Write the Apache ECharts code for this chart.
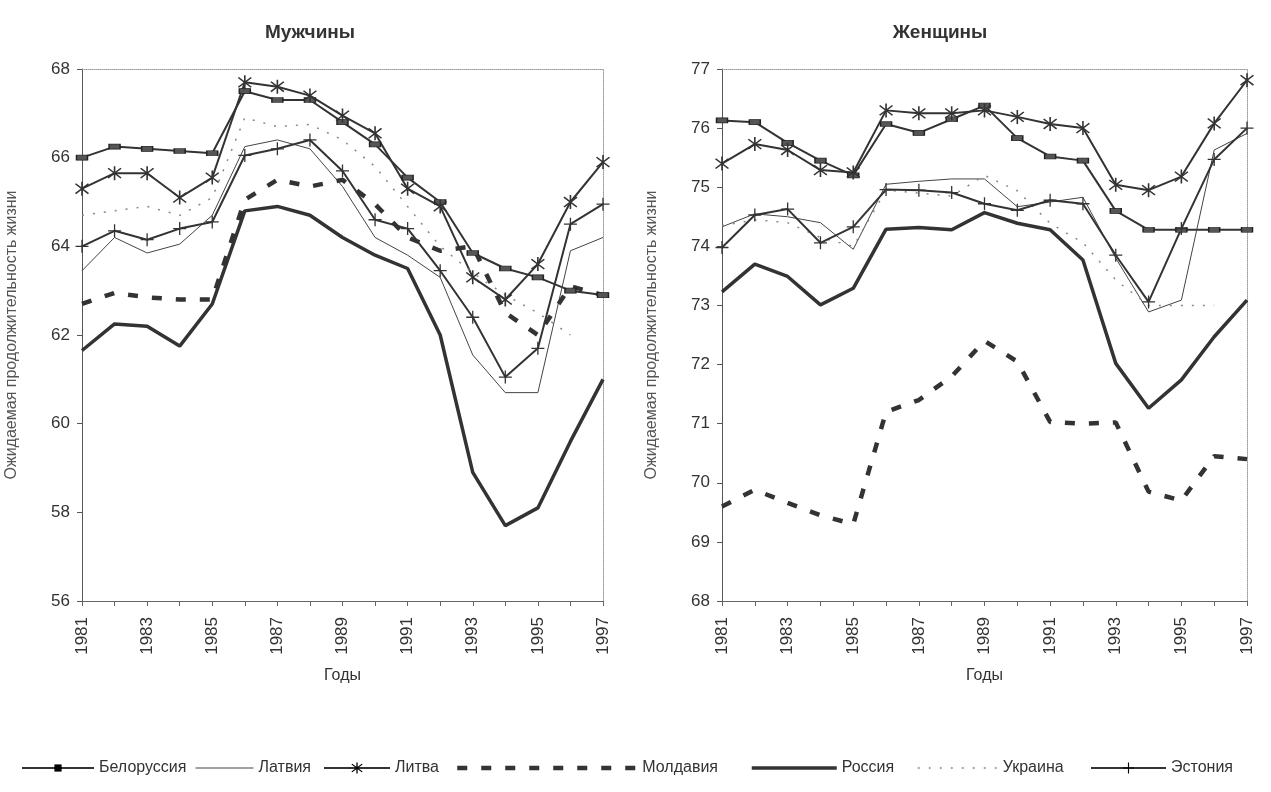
<!doctype html>
<html>
<head>
  <meta charset="UTF-8" />
  <title>Ожидаемая продолжительность жизни</title>
  <script src="https://cdn.jsdelivr.net/npm/echarts@6.0.0/dist/echarts.min.js"></script>
  <style>
    html, body { margin: 0; padding: 0; background: #ffffff; }
    #chart { width: 1271px; height: 792px; }
  </style>
</head>
<body>
  <div id="chart"></div>
  <script>
    const years = ["1981", "1982", "1983", "1984", "1985", "1986", "1987", "1988", "1989",
      "1990", "1991", "1992", "1993", "1994", "1995", "1996", "1997"];
    const countries = ["Белоруссия", "Латвия", "Литва", "Молдавия", "Россия", "Украина", "Эстония"];

    // мужчины
    const belarusM = [66.0, 66.25, 66.2, 66.15, 66.1, 67.5, 67.3, 67.3, 66.8, 66.3, 65.55, 65.0, 63.85, 63.5, 63.3, 63.0, 62.9];
    const latviaM = [63.45, 64.2, 63.85, 64.05, 64.7, 66.25, 66.4, 66.2, 65.35, 64.2, 63.8, 63.3, 61.55, 60.7, 60.7, 63.9, 64.2];
    const lithuaniaM = [65.3, 65.65, 65.65, 65.1, 65.55, 67.7, 67.6, 67.4, 66.95, 66.55, 65.3, 64.9, 63.3, 62.8, 63.6, 65.0, 65.9];
    const moldovaM = [62.7, 62.95, 62.85, 62.8, 62.8, 65.05, 65.5, 65.35, 65.5, 64.95, 64.2, 63.9, 64.0, 62.5, 62.0, 63.1, 62.9];
    const russiaM = [61.65, 62.25, 62.2, 61.75, 62.7, 64.8, 64.9, 64.7, 64.2, 63.8, 63.5, 62.0, 58.9, 57.7, 58.1, 59.6, 61.0];
    const ukraineM = [64.7, 64.8, 64.9, 64.7, 65.1, 66.9, 66.7, 66.75, 66.4, 65.8, 64.9, 64.0, 63.4, 62.9, 62.5, 62.0, null];
    const estoniaM = [64.0, 64.35, 64.15, 64.4, 64.55, 66.05, 66.2, 66.4, 65.7, 64.6, 64.4, 63.45, 62.4, 61.05, 61.7, 64.5, 64.95];

    // женщины
    const belarusF = [76.13, 76.1, 75.75, 75.45, 75.2, 76.07, 75.92, 76.15, 76.38, 75.83, 75.52, 75.45, 74.6, 74.28, 74.28, 74.28, 74.28];
    const latviaF = [74.33, 74.55, 74.5, 74.4, 73.95, 75.05, 75.1, 75.14, 75.14, 74.67, 74.75, 74.83, 73.8, 72.89, 73.09, 75.63, 75.91];
    const lithuaniaF = [75.4, 75.73, 75.63, 75.29, 75.25, 76.3, 76.25, 76.25, 76.3, 76.19, 76.07, 76.0, 75.04, 74.95, 75.18, 76.08, 76.81];
    const moldovaF = [69.6, 69.88, 69.66, 69.45, 69.3, 71.2, 71.4, 71.8, 72.4, 72.05, 71.03, 71.0, 71.02, 69.85, 69.7, 70.45, 70.4];
    const russiaF = [73.23, 73.7, 73.49, 73.01, 73.29, 74.29, 74.32, 74.28, 74.57, 74.39, 74.28, 73.77, 72.02, 71.26, 71.74, 72.47, 73.09];
    const ukraineF = [74.35, 74.45, 74.4, 74.15, 74.0, 74.95, 74.9, 74.85, 75.2, 74.94, 74.39, 74.06, 73.43, 73.0, 73.0, 73.0, null];
    const estoniaF = [73.98, 74.53, 74.63, 74.06, 74.33, 74.96, 74.95, 74.91, 74.72, 74.61, 74.78, 74.72, 73.85, 73.06, 74.3, 75.47, 76.0];

    const menData = [belarusM, latviaM, lithuaniaM, moldovaM, russiaM, ukraineM, estoniaM];
    const womenData = [belarusF, latviaF, lithuaniaF, moldovaF, russiaF, ukraineF, estoniaF];

    const FONT = 'Arial, "Liberation Sans", sans-serif';
    const INK = "#333333";

    const starPath = "path://M9,0 L11,0 L11,20 L9,20 Z M2.66,2.25 L18.66,16.25 L17.34,17.75 L1.34,3.75 Z M17.34,2.25 L18.66,3.75 L2.66,17.75 L1.34,16.25 Z";
    const plusPath = "path://M9,0 L11,0 L11,9 L20,9 L20,11 L11,11 L11,20 L9,20 L9,11 L0,11 L0,9 L9,9 Z";

    // стиль линий для каждой страны
    const styles = [
      { lineStyle: { width: 2, color: INK }, symbol: "rect", symbolSize: [11, 5],
        itemStyle: { color: "#555", borderColor: "#222", borderWidth: 1 } },
      { lineStyle: { width: 1, color: "#444" }, symbol: "none", itemStyle: { color: "#444" } },
      { lineStyle: { width: 2, color: INK }, symbol: starPath, symbolSize: 14, itemStyle: { color: INK } },
      { lineStyle: { width: 4.5, color: INK, type: [10, 14] }, symbol: "none", itemStyle: { color: INK } },
      { lineStyle: { width: 3.5, color: INK }, symbol: "none", itemStyle: { color: INK } },
      { lineStyle: { width: 1.5, color: "#888", type: [2, 9] }, symbol: "none", itemStyle: { color: "#888" } },
      { lineStyle: { width: 2, color: INK }, symbol: plusPath, symbolSize: 13, itemStyle: { color: INK } },
    ];

    const makeSeries = (data, idx) => data.map((values, i) => ({
      name: countries[i],
      type: "line",
      xAxisIndex: idx,
      yAxisIndex: idx,
      data: values,
      showSymbol: styles[i].symbol !== "none",
      symbol: styles[i].symbol,
      symbolSize: styles[i].symbolSize,
      lineStyle: styles[i].lineStyle,
      itemStyle: styles[i].itemStyle,
      animation: false,
      z: 3,
    }));

    const grids = [
      { left: 82, right: 668, top: 69, bottom: 191 },
      { left: 722, right: 24, top: 69, bottom: 191 },
    ];

    const bottomAxis = (gridIndex) => ({
      type: "category",
      gridIndex: gridIndex,
      data: years,
      boundaryGap: false,
      name: "Годы",
      nameLocation: "middle",
      nameGap: 67,
      nameTextStyle: { fontFamily: FONT, fontSize: 16, color: INK },
      axisLine: { lineStyle: { color: "#666", width: 1 } },
      axisTick: { interval: 0, length: 5, lineStyle: { color: "#666" } },
      axisLabel: { interval: 1, rotate: 90, margin: 16, fontFamily: FONT, fontSize: 17, color: INK },
      splitLine: { show: false },
    });

    const topFrame = (gridIndex) => ({
      type: "category",
      gridIndex: gridIndex,
      position: "top",
      data: years,
      boundaryGap: false,
      axisLine: { lineStyle: { color: "#999", type: "dotted", width: 1 } },
      axisTick: { show: false },
      axisLabel: { show: false },
      splitLine: { show: false },
    });

    const leftAxis = (gridIndex, min, max, interval) => ({
      type: "value",
      gridIndex: gridIndex,
      min: min,
      max: max,
      interval: interval,
      name: "Ожидаемая продолжительность жизни",
      nameLocation: "middle",
      nameGap: 62,
      nameTextStyle: { fontFamily: FONT, fontSize: 16, color: "#555" },
      axisLine: { show: true, lineStyle: { color: "#555", width: 1 } },
      axisTick: { show: true, length: 5, lineStyle: { color: "#555" } },
      axisLabel: { margin: 12, fontFamily: FONT, fontSize: 17, color: INK },
      splitLine: { show: false },
    });

    const rightFrame = (gridIndex, min, max) => ({
      type: "value",
      gridIndex: gridIndex,
      position: "right",
      min: min,
      max: max,
      axisLine: { show: true, lineStyle: { color: "#999", type: "dotted", width: 1 } },
      axisTick: { show: false },
      axisLabel: { show: false },
      splitLine: { show: false },
    });

    const legendLeft = [16, 190, 318, 450, 745, 912, 1085];
    const legendWidth = [72, 58, 66, 180, 85, 80, 75];
    const legendHeight = [9, 14, 14, 14, 14, 14, 14];
    const legends = countries.map((name, i) => ({
      data: [name],
      left: legendLeft[i],
      top: 755,
      itemWidth: legendWidth[i],
      itemHeight: legendHeight[i],
      itemGap: 0,
      selectedMode: false,
      lineStyle: styles[i].lineStyle,
      itemStyle: styles[i].symbol === "none" ? { opacity: 0 } : undefined,
      textStyle: { fontFamily: FONT, fontSize: 16, color: INK },
    }));

    const chart = echarts.init(document.getElementById("chart"), null, { renderer: "canvas" });

    const option = {
      backgroundColor: "#ffffff",
      animation: false,
      title: [
        { text: "Мужчины", left: 305, top: 18, textAlign: "center",
          textStyle: { fontFamily: FONT, fontSize: 19, fontWeight: "bold", color: INK } },
        { text: "Женщины", left: 935, top: 18, textAlign: "center",
          textStyle: { fontFamily: FONT, fontSize: 19, fontWeight: "bold", color: INK } },
      ],
      legend: legends,
      grid: grids,
      xAxis: [bottomAxis(0), bottomAxis(1), topFrame(0), topFrame(1)],
      yAxis: [leftAxis(0, 56, 68, 2), leftAxis(1, 68, 77, 1), rightFrame(0, 56, 68), rightFrame(1, 68, 77)],
      series: [...makeSeries(menData, 0), ...makeSeries(womenData, 1)],
    };

    chart.setOption(option);
  </script>
</body>
</html>
